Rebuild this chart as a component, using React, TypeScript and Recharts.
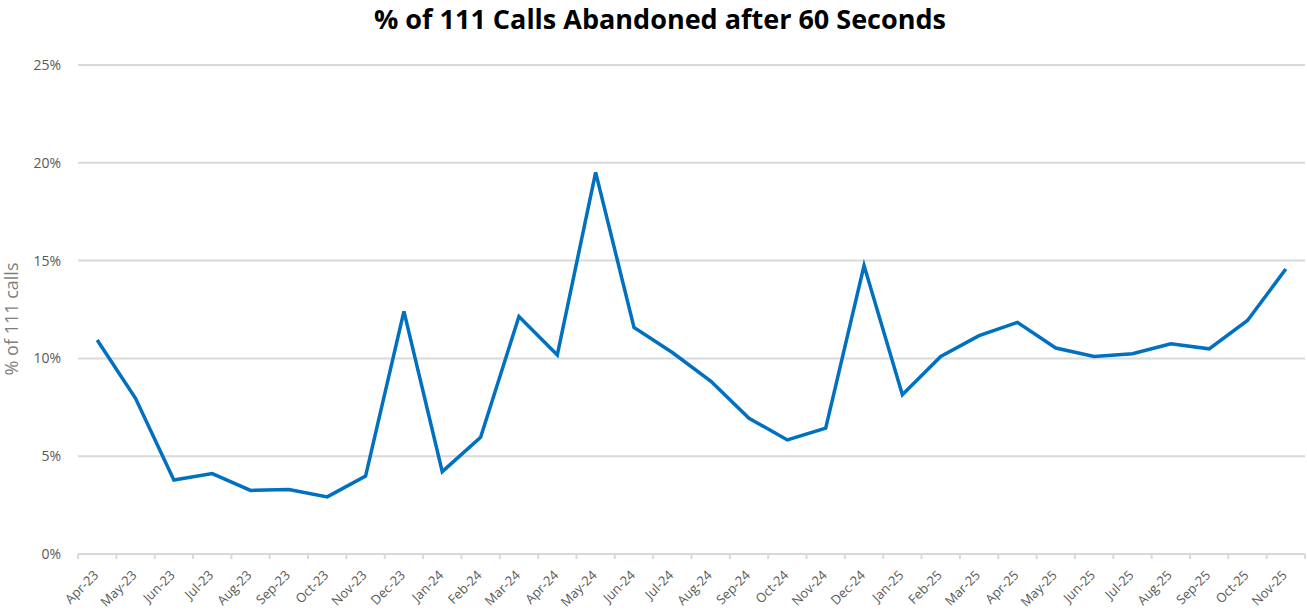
import { LineChart, Line, XAxis, YAxis, CartesianGrid } from 'recharts';

const MONTHS = [
    'Apr-23', 'May-23', 'Jun-23', 'Jul-23', 'Aug-23', 'Sep-23', 'Oct-23', 'Nov-23',
    'Dec-23', 'Jan-24', 'Feb-24', 'Mar-24', 'Apr-24', 'May-24', 'Jun-24', 'Jul-24',
    'Aug-24', 'Sep-24', 'Oct-24', 'Nov-24', 'Dec-24', 'Jan-25', 'Feb-25', 'Mar-25',
    'Apr-25', 'May-25', 'Jun-25', 'Jul-25', 'Aug-25', 'Sep-25', 'Oct-25', 'Nov-25',
];

// % of 111 calls abandoned after 60 seconds
const ABANDONED_PCT = [
    10.94, 7.96, 3.78, 4.11, 3.25, 3.3, 2.92, 3.98,
    12.4, 4.21, 5.97, 12.14, 10.18, 19.51, 11.58, 10.3,
    8.84, 6.94, 5.83, 6.43, 14.75, 8.14, 10.1, 11.16,
    11.84, 10.53, 10.1, 10.24, 10.75, 10.49, 11.94, 14.57,
];

const Y_TICKS = [0, 5, 10, 15, 20, 25];

const W = 1307;
const H = 611;
const PLOT_LEFT = 78;
const PLOT_RIGHT = 1305;
const BW = (PLOT_RIGHT - PLOT_LEFT) / MONTHS.length;

const GRID = '#d9d9d9';
const LABEL = '#595959';
const FONT = '"Open Sans", sans-serif';

const data = MONTHS.map((m, i) => ({ month: m, pct: ABANDONED_PCT[i] }));

const MonthTick = (props: any) => {
    const { x, y, payload, index } = props;
    const tx = x + 2;
    const ty = y + 22;
    return (
        <g>
            <line x1={x - BW / 2} x2={x - BW / 2} y1={y} y2={y + 5} stroke={GRID} strokeWidth={2} />
            {index === MONTHS.length - 1 && (
                <line x1={x + BW / 2} x2={x + BW / 2} y1={y} y2={y + 5} stroke={GRID} strokeWidth={2} />
            )}
            <text
                x={tx}
                y={ty}
                textAnchor="end"
                transform={`rotate(-45, ${tx}, ${ty})`}
                fill={LABEL}
                fontSize={13}
                fontFamily={FONT}
            >
                {payload.value}
            </text>
        </g>
    );
};

export default function App() {
    return (
        <div style={{ position: 'absolute', left: 0, top: 0, width: W, height: H, background: '#fff' }}>
            <LineChart
                width={W}
                height={H}
                data={data}
                margin={{ left: 8, right: W - PLOT_RIGHT, top: 65, bottom: 7 }}
            >
                <CartesianGrid vertical={false} stroke={GRID} strokeWidth={2} />
                <XAxis
                    dataKey="month"
                    interval={0}
                    height={50}
                    padding={{ left: BW / 2, right: BW / 2 }}
                    axisLine={{ stroke: GRID, strokeWidth: 2 }}
                    tickLine={false}
                    tickSize={0}
                    tickMargin={0}
                    tick={<MonthTick />}
                />
                <YAxis
                    width={70}
                    domain={[0, 25]}
                    ticks={Y_TICKS}
                    axisLine={false}
                    tickLine={false}
                    tickSize={0}
                    tickMargin={17}
                    tickFormatter={v => `${v}%`}
                    tick={{ fill: LABEL, fontSize: 14, fontFamily: FONT }}
                />
                <Line
                    type="linear"
                    dataKey="pct"
                    stroke="#0070c0"
                    strokeWidth={3.5}
                    dot={false}
                    isAnimationActive={false}
                />
            </LineChart>
            <svg
                width={W}
                height={H}
                style={{ position: 'absolute', left: 0, top: 0, pointerEvents: 'none' }}
            >
                <text
                    x={374}
                    y={28.5}
                    textLength={572}
                    lengthAdjust="spacingAndGlyphs"
                    fontSize={26}
                    fontWeight="bold"
                    fontFamily={FONT}
                    fill="#000"
                >
                    % of 111 Calls Abandoned after 60 Seconds
                </text>
                <text
                    x={18}
                    y={319}
                    textAnchor="middle"
                    transform="rotate(-90, 18, 319)"
                    fontSize={18}
                    fontFamily={FONT}
                    fill="#7f7f7f"
                >
                    % of 111 calls
                </text>
            </svg>
        </div>
    );
}
